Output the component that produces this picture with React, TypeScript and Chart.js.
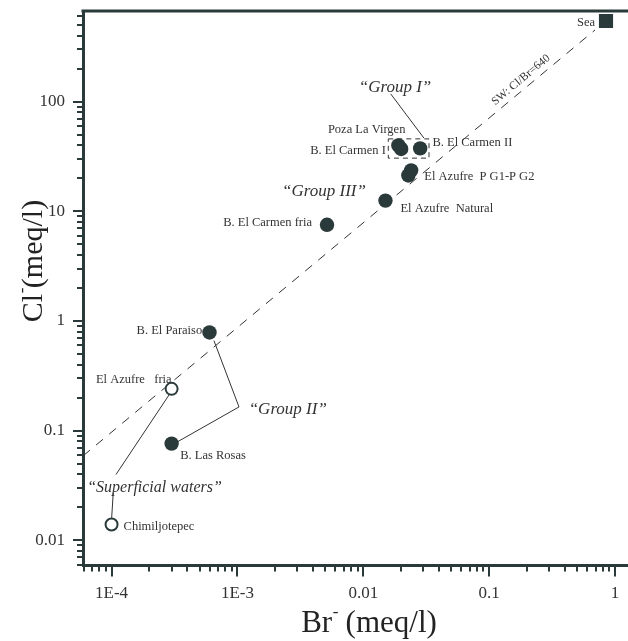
import React, { useEffect, useRef } from 'react';
import { Chart, registerables } from 'chart.js';

Chart.register(...registerables);

// ---------- data ----------
const xTickValues = [1e-4, 1e-3, 0.01, 0.1, 1];
const xTickLabels = ['1E-4', '1E-3', '0.01', '0.1', '1'];
const yTickValues = [0.01, 0.1, 1, 10, 100];
const yTickLabels = ['0.01', '0.1', '1', '10', '100'];

const xMin = 5.93e-5;
const xMax = 1.268;
const yMin = 0.00588;
const yMax = 670;

const seaNames = ['Sea'];
const seaBr = [0.848];
const seaCl = [543];

const thermalNames = [
  'Poza La Virgen',
  'B. El Carmen I',
  'B. El Carmen II',
  'El Azufre  P G1-P G2',
  'El Azufre P G2',
  'El Azufre  Natural',
  'B. El Carmen fria',
  'B. El Paraiso',
  'B. Las Rosas',
];
const thermalBr = [0.019, 0.02, 0.0283, 0.0228, 0.024, 0.015, 0.00515, 0.0006, 0.0003];
const thermalCl = [39.8, 37.0, 37.4, 21.2, 23.6, 12.5, 7.52, 0.785, 0.076];

const superficialNames = ['El Azufre   fria', 'Chimiljotepec'];
const superficialBr = [0.0003, 0.0001];
const superficialCl = [0.24, 0.0139];

const swLineBr = [5.93e-5, 0.6935];
const swLineCl = [0.0587, 450];
const swLabel = 'SW: Cl/Br=640';
const swLabelAt = [0.179, 157.6];

const groupTexts = ['\u201CGroup I\u201D', '\u201CGroup III\u201D', '\u201CGroup II\u201D', '\u201CSuperficial waters\u201D'];
const groupBr = [0.01786, 0.004872, 0.002512, 0.0002193];
const groupCl = [133.3, 15.14, 0.1552, 0.03002];

const groupIConnector = [[0.01652, 117.5], [0.03034, 46.4]];
const groupIIConnector = [[0.000651, 0.66], [0.001029, 0.1642], [0.000333, 0.0788]];
const superficialConnectorA = [[0.0002873, 0.2127], [0.0001084, 0.03969]];
const superficialConnectorB = [[0.0001031, 0.02703], [0.0001002, 0.016]];
const groupIBoxBr = [0.0158, 0.03327];
const groupIBoxCl = [45.7, 30.5];

// ---------- styles ----------
const FONT = '"Liberation Serif", "Times New Roman", serif';
const INK = '#2a3939';
const TEXT = '#333333';

// label placement relative to point (pixels)
const labelLayout: Record<string, { dx: number; dy: number; align: CanvasTextAlign; hide?: boolean }> = {
  'Sea': { dx: -11, dy: 1.5, align: 'right' },
  'Poza La Virgen': { dx: 7, dy: -16, align: 'right' },
  'B. El Carmen I': { dx: -15.3, dy: 1.5, align: 'right' },
  'B. El Carmen II': { dx: 12.3, dy: -5.7, align: 'left' },
  'El Azufre  P G1-P G2': { dx: 16, dy: 1.7, align: 'left' },
  'El Azufre P G2': { dx: 0, dy: 0, align: 'left', hide: true },
  'El Azufre  Natural': { dx: 15, dy: 8.3, align: 'left' },
  'B. El Carmen fria': { dx: -15, dy: -1.7, align: 'right' },
  'B. El Paraiso': { dx: -7.3, dy: -2, align: 'right' },
  'B. Las Rosas': { dx: 8.6, dy: 11.7, align: 'left' },
  'El Azufre   fria': { dx: 0, dy: -9.3, align: 'right' },
  'Chimiljotepec': { dx: 12, dy: 1.7, align: 'left' },
};

const pts = (xs: number[], ys: number[]) => xs.map((x, i) => ({ x, y: ys[i] }));

function drawTitle(ctx: CanvasRenderingContext2D, base: string, sup: string, rest: string, size: number) {
  const main = `${size}px ${FONT}`;
  const small = `${Math.round(size * 0.55)}px ${FONT}`;
  ctx.font = main;
  const w1 = ctx.measureText(base).width;
  const w3 = ctx.measureText(rest).width;
  ctx.font = small;
  const w2 = ctx.measureText(sup).width;
  const x0 = -(w1 + w2 + w3) / 2;
  ctx.textBaseline = 'alphabetic';
  ctx.textAlign = 'left';
  ctx.font = main;
  ctx.fillText(base, x0, 0);
  ctx.font = small;
  ctx.fillText(sup, x0 + w1 + 0.5, -size * 0.5);
  ctx.font = main;
  ctx.fillText(rest, x0 + w1 + w2, 0);
}

const overlayPlugin = {
  id: 'overlay',
  afterDraw(chart: any) {
    const ctx: CanvasRenderingContext2D = chart.ctx;
    const xs = chart.scales.x;
    const ys = chart.scales.y;
    const area = chart.chartArea;
    const px = (v: number) => xs.getPixelForValue(v);
    const py = (v: number) => ys.getPixelForValue(v);
    ctx.save();

    // top frame line
    ctx.strokeStyle = INK;
    ctx.lineWidth = 3;
    ctx.beginPath();
    ctx.moveTo(area.left - 1.5, area.top);
    ctx.lineTo(area.right + 2, area.top);
    ctx.stroke();

    // tick marks (major + minor)
    ctx.lineWidth = 2;
    for (let e = -5; e <= 0; e++) {
      for (let m = 1; m <= 9; m++) {
        const v = m * Math.pow(10, e);
        if (v < xMin * 1.001 || v > xMax) continue;
        const p = Math.round(px(v));
        const len = m === 1 ? 11 : 6;
        ctx.beginPath();
        ctx.moveTo(p, area.bottom);
        ctx.lineTo(p, area.bottom + len);
        ctx.stroke();
      }
    }
    for (let e = -3; e <= 2; e++) {
      for (let m = 1; m <= 9; m++) {
        const v = m * Math.pow(10, e);
        if (v < yMin || v > yMax) continue;
        const p = Math.round(py(v));
        const len = m === 1 ? 10 : 6;
        ctx.beginPath();
        ctx.moveTo(area.left, p);
        ctx.lineTo(area.left - len, p);
        ctx.stroke();
      }
    }

    // connectors
    ctx.strokeStyle = '#333';
    ctx.lineWidth = 1;
    [groupIConnector, groupIIConnector, superficialConnectorA, superficialConnectorB].forEach((line) => {
      ctx.beginPath();
      line.forEach(([x, y], i) => {
        if (i === 0) ctx.moveTo(px(x), py(y));
        else ctx.lineTo(px(x), py(y));
      });
      ctx.stroke();
    });

    // group I dashed box
    ctx.setLineDash([5, 4]);
    const bx1 = px(groupIBoxBr[0]);
    const bx2 = px(groupIBoxBr[1]);
    const by1 = py(groupIBoxCl[0]);
    const by2 = py(groupIBoxCl[1]);
    ctx.strokeRect(bx1, by1, bx2 - bx1, by2 - by1);
    ctx.setLineDash([]);

    // point labels
    ctx.fillStyle = TEXT;
    ctx.font = `12.5px ${FONT}`;
    ctx.textBaseline = 'middle';
    chart.data.datasets.forEach((ds: any, di: number) => {
      if (!ds.names) return;
      const meta = chart.getDatasetMeta(di);
      ds.names.forEach((name: string, i: number) => {
        const lay = labelLayout[name];
        if (!lay || lay.hide) return;
        const el = meta.data[i];
        ctx.textAlign = lay.align;
        ctx.fillText(name, el.x + lay.dx, el.y + lay.dy);
      });
    });

    // group labels
    ctx.textAlign = 'center';
    groupTexts.forEach((t, i) => {
      ctx.font = `italic ${i === 3 ? 16 : 17}px ${FONT}`;
      ctx.fillText(t, px(groupBr[i]), py(groupCl[i]));
    });

    // SW label
    ctx.save();
    ctx.translate(px(swLabelAt[0]), py(swLabelAt[1]));
    ctx.rotate((-40 * Math.PI) / 180);
    ctx.font = `11.5px ${FONT}`;
    ctx.textAlign = 'center';
    ctx.fillText(swLabel, 0, 0);
    ctx.restore();

    // axis titles
    ctx.fillStyle = '#222';
    ctx.save();
    ctx.translate(369, 632);
    drawTitle(ctx, 'Br', '-', ' (meq/l)', 31);
    ctx.restore();
    ctx.save();
    ctx.translate(42, 261);
    ctx.rotate(-Math.PI / 2);
    drawTitle(ctx, 'Cl', '-', '(meq/l)', 30);
    ctx.restore();

    ctx.restore();
  },
};

export default function App() {
  const ref = useRef<HTMLCanvasElement>(null);
  useEffect(() => {
    if (!ref.current) return;
    const chart = new Chart(ref.current, {
      type: 'scatter',
      data: {
        datasets: [
          {
            label: 'Sea',
            names: seaNames,
            data: pts(seaBr, seaCl),
            pointStyle: 'rect',
            pointRadius: 10,
            backgroundColor: INK,
            borderColor: INK,
            borderWidth: 0,
            order: 1,
          } as any,
          {
            label: 'Thermal',
            names: thermalNames,
            data: pts(thermalBr, thermalCl),
            pointStyle: 'circle',
            pointRadius: 7.2,
            backgroundColor: INK,
            borderColor: INK,
            borderWidth: 0,
            order: 1,
          } as any,
          {
            label: 'Superficial',
            names: superficialNames,
            data: pts(superficialBr, superficialCl),
            pointStyle: 'circle',
            pointRadius: 6,
            backgroundColor: '#ffffff',
            borderColor: INK,
            borderWidth: 2,
            order: 1,
          } as any,
          {
            label: 'SW line',
            data: pts(swLineBr, swLineCl),
            showLine: true,
            pointRadius: 0,
            borderColor: '#333',
            borderWidth: 1,
            borderDash: [9, 8],
            order: 10,
          } as any,
        ],
      },
      options: {
        animation: false,
        responsive: true,
        maintainAspectRatio: false,
        layout: { autoPadding: false, padding: { top: 11, right: 0, bottom: 0, left: 0 } },
        plugins: { legend: { display: false }, tooltip: { enabled: false } },
        scales: {
          x: {
            type: 'logarithmic',
            min: xMin,
            max: xMax,
            afterBuildTicks: (s: any) => {
              s.ticks = xTickValues.map((value) => ({ value }));
            },
            afterFit: (s: any) => {
              s.height = 75.5;
              s.paddingLeft = 0;
              s.paddingRight = 0;
            },
            grid: { display: false, drawTicks: false },
            border: { display: true, color: INK, width: 3 },
            ticks: {
              autoSkip: false,
              maxRotation: 0,
              padding: 18,
              color: '#333',
              font: { family: FONT, size: 17 },
              callback: (_v: any, i: number) => xTickLabels[i],
            },
          },
          y: {
            type: 'logarithmic',
            min: yMin,
            max: yMax,
            afterBuildTicks: (s: any) => {
              s.ticks = yTickValues.map((value) => ({ value }));
            },
            afterFit: (s: any) => {
              s.width = 83;
              s.paddingTop = 0;
              s.paddingBottom = 0;
            },
            grid: { display: false, drawTicks: false },
            border: { display: true, color: INK, width: 3 },
            ticks: {
              autoSkip: false,
              padding: 18,
              color: '#333',
              font: { family: FONT, size: 17 },
              callback: (_v: any, i: number) => yTickLabels[i],
            },
          },
        },
      } as any,
      plugins: [overlayPlugin],
    });
    return () => chart.destroy();
  }, []);
  return (
    <div style={{ position: 'fixed', left: 0, top: 0, width: 628, height: 641, background: '#ffffff' }}>
      <canvas ref={ref} />
    </div>
  );
}
